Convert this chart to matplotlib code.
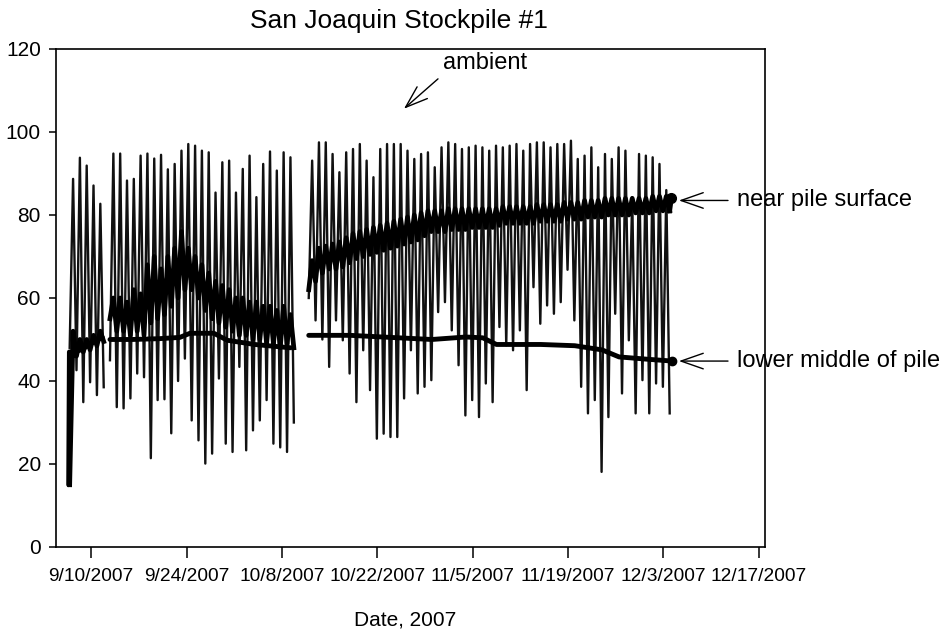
import numpy as np
import pandas as pd
import matplotlib
matplotlib.use('Agg')
import matplotlib.pyplot as plt
import matplotlib.dates as mdates

plt.rcParams['font.family'] = ['Liberation Sans', 'DejaVu Sans']

# ambient air: daily high / low, three logging periods
amb1_peak0 = '2007-09-07 08:00'
amb1_start = 48
amb1_hi = [88.7, 93.8, 91.9, 87.1, 82.7]
amb1_lo = [42.6, 34.9, 39.7, 36.6, 38.5]

amb2_peak0 = '2007-09-13 06:00'
amb2_start = 45
amb2_hi = [94.8, 94.8, 88.3, 88.7, 94.3, 94.8, 93.6, 94.5, 91.0, 92.3, 95.5, 97.1, 96.7, 95.5,
           95.1, 85.4, 92.7, 93.1, 85.4, 91.1, 94.3, 84.3, 92.3, 95.3, 90.7, 95.1, 93.9]
amb2_lo = [33.7, 33.4, 35.8, 41.8, 40.9, 21.4, 35.4, 35.6, 27.4, 40.0, 45.4, 30.5, 25.7, 20.1,
           22.5, 40.6, 24.9, 22.9, 43.4, 23.3, 28.1, 30.5, 35.4, 24.9, 24.0, 22.9, 30.0]

amb3_peak0 = '2007-10-12 10:30'
amb3_start = 60
amb3_hi = [93.1, 97.5, 97.5, 94.7, 90.3, 95.1, 95.9, 97.1, 93.1, 89.1, 95.9, 97.1, 97.1, 97.1,
           95.5, 93.5, 94.7, 95.1, 91.5, 96.3, 97.5, 97.1, 95.9, 96.3, 96.7, 96.3, 95.5, 96.7,
           96.3, 96.7, 97.1, 95.5, 97.1, 97.5, 97.5, 96.3, 97.1, 97.1, 97.9, 93.5, 94.3, 96.3,
           91.5, 94.7, 93.5, 96.3, 95.5, 84.3, 94.7, 94.3, 93.9, 92.3, 86.0]
amb3_lo = [54.6, 50.0, 43.4, 54.6, 49.8, 41.8, 34.9, 47.4, 37.8, 26.1, 27.3, 26.5, 26.5, 35.8,
           47.4, 37.0, 38.6, 40.2, 56.6, 59.0, 52.2, 43.8, 31.7, 35.4, 31.3, 39.4, 34.9, 53.0,
           48.6, 47.4, 52.2, 37.8, 62.6, 53.8, 58.2, 56.2, 59.0, 66.8, 54.6, 38.6, 32.2, 35.4,
           18.1, 31.3, 56.2, 37.0, 49.8, 32.2, 40.2, 32.2, 39.4, 38.6, 32.2]

# near pile surface: daily high / low
near1_start = 15
near1_hi = [52, 50, 50, 51, 52]
near1_lo = [46, 47, 47.5, 48.5, 49.5]

near2_start = 55
near2_hi = [60, 60, 59, 62, 61, 68, 70, 67, 70, 72, 76, 72, 70, 68, 66, 64, 63, 62, 60, 60,
            59, 59, 58, 58, 57, 58, 56]
near2_lo = [52, 52, 51, 52, 51, 54, 55, 56, 58, 60, 62, 62, 60, 57, 55, 54, 53, 52, 51, 51,
            50, 50, 49, 49, 48, 49, 48]

near3_start = 62
near3_hi = [69, 72, 72.5, 73, 73.5, 74.5, 75.5, 76, 76.5, 77, 77.5, 78, 78.5, 79, 79.5, 80,
            80.5, 81, 81, 81, 81.5, 81.5, 81.5, 81.5, 81.5, 81.5, 81.5, 81.5, 82, 82, 82, 82,
            82, 82.5, 82.5, 82.5, 82.5, 83, 83, 83, 83.5, 83.5, 83.5, 84, 84, 84, 84, 84, 84,
            84, 84.5, 84.5, 84.5]
near3_lo = [64, 66, 67, 67, 67.5, 68.5, 69.5, 70, 70.5, 71, 71.5, 72, 72.5, 73, 73.5, 74,
            75, 76, 76, 76, 76.5, 76.5, 76.5, 77, 77, 77, 77, 77.5, 78, 78, 78, 78, 78, 78.5,
            78.5, 78.5, 78.5, 79, 79, 79, 79.5, 79.5, 79.5, 80, 80, 80, 80, 80.5, 80.5, 80.5,
            81, 81, 81]
near3_end = 84

# lower middle of pile
low1_t = ['2007-09-06 16:30', '2007-09-06 19:00', '2007-09-07 12:00', '2007-09-08 12:00',
          '2007-09-09 12:00', '2007-09-10 12:00', '2007-09-11 15:00']
low1_v = [15, 47, 47, 47.5, 48.5, 49.5, 50.5]
low2_t = ['2007-09-12 18:00', '2007-09-16', '2007-09-20', '2007-09-23', '2007-09-24 12:00',
          '2007-09-28', '2007-09-30', '2007-10-04', '2007-10-09 06:00']
low2_v = [50, 50, 50.2, 50.5, 51.5, 51.5, 49.8, 48.8, 48]
low3_t = ['2007-10-11 22:30', '2007-10-18', '2007-10-24', '2007-10-30', '2007-11-04',
          '2007-11-06 12:00', '2007-11-08 12:00', '2007-11-15', '2007-11-20', '2007-11-24',
          '2007-11-26 12:00', '2007-12-01', '2007-12-04 08:00']
low3_v = [51, 51, 50.5, 50, 50.6, 50.4, 48.8, 48.8, 48.5, 47.5, 45.8, 45.2, 44.8]

tick_dates = ['2007-09-10', '2007-09-24', '2007-10-08', '2007-10-22', '2007-11-05',
              '2007-11-19', '2007-12-03', '2007-12-17']
tick_labels = ['9/10/2007', '9/24/2007', '10/8/2007', '10/22/2007', '11/5/2007',
               '11/19/2007', '12/3/2007', '12/17/2007']


def daily(peak0, start, hi, lo):
    t0 = pd.Timestamp(peak0)
    half = pd.Timedelta(hours=12)
    t = [t0 - half]
    v = [start]
    for i, (h, l) in enumerate(zip(hi, lo)):
        d = t0 + pd.Timedelta(days=i)
        t += [d, d + half]
        v += [h, l]
    return t, v


fig = plt.figure(figsize=(9.5, 6.32), dpi=100)
ax = fig.add_axes([0.059, 0.1345, 0.7463, 0.788])

# ambient
for p0, s, hi, lo in [(amb1_peak0, amb1_start, amb1_hi, amb1_lo),
                      (amb2_peak0, amb2_start, amb2_hi, amb2_lo),
                      (amb3_peak0, amb3_start, amb3_hi, amb3_lo)]:
    t, v = daily(p0, s, hi, lo)
    ax.plot(t, v, color='#111111', lw=1.7)

# near pile surface
for p0, s, hi, lo in [(amb1_peak0, near1_start, near1_hi, near1_lo),
                      (amb2_peak0, near2_start, near2_hi, near2_lo),
                      (amb3_peak0, near3_start, near3_hi, near3_lo)]:
    t, v = daily(p0, s, hi, lo)
    ax.plot(t, v, color='black', lw=3.4, solid_joinstyle='round')
t3, v3 = daily(amb3_peak0, near3_start, near3_hi, near3_lo)
t_end = t3[-1] + pd.Timedelta(hours=6)
ax.plot([t3[-1], t_end], [v3[-1], near3_end], color='black', lw=3.4)
ax.plot([t_end], [near3_end], 'o', color='black', ms=7)

# lower middle of pile
for tt, vv in [(low1_t, low1_v), (low2_t, low2_v), (low3_t, low3_v)]:
    ax.plot([pd.Timestamp(s) for s in tt], vv, color='black', lw=3.5, solid_capstyle='round')
ax.plot([pd.Timestamp(low3_t[-1])], [low3_v[-1]], 'o', color='black', ms=6)

ax.set_xlim(pd.Timestamp('2007-09-04 20:00'), pd.Timestamp('2007-12-17 22:30'))
ax.set_ylim(0, 120)
ax.set_yticks(range(0, 121, 20))
ax.set_xticks([pd.Timestamp(s) for s in tick_dates])
ax.set_xticklabels(tick_labels)
ax.tick_params(axis='both', direction='out', width=1.1)
ax.tick_params(axis='y', length=5, pad=6, labelsize=15)
ax.tick_params(axis='x', length=8, pad=7, labelsize=13.8)
for sp in ax.spines.values():
    sp.set_linewidth(1.2)


# annotations
def dn(s):
    return mdates.date2num(pd.Timestamp(s))


arrow = dict(arrowstyle='->,head_length=1.0,head_width=0.35', lw=1.0, color='black',
             mutation_scale=16, shrinkA=0, shrinkB=0)
ax.annotate('', xy=(dn('2007-10-25 22:00'), 105.6), xytext=(dn('2007-10-30 22:00'), 112.8),
            arrowprops=arrow, annotation_clip=False)
ax.text(dn('2007-10-31 16:00'), 116.6, 'ambient', fontsize=17, va='center', ha='left')

ax.annotate('', xy=(dn('2007-12-05 07:00'), 83.5), xytext=(dn('2007-12-12 12:00'), 83.5),
            arrowprops=arrow, annotation_clip=False)
ax.text(dn('2007-12-13 19:00'), 83.5, 'near pile surface', fontsize=17, va='center',
        ha='left', clip_on=False)

ax.annotate('', xy=(dn('2007-12-05 07:00'), 44.8), xytext=(dn('2007-12-12 12:00'), 44.8),
            arrowprops=arrow, annotation_clip=False)
ax.text(dn('2007-12-13 19:00'), 44.8, 'lower middle of pile', fontsize=17, va='center',
        ha='left', clip_on=False)

fig.text(399 / 950, 1 - 21 / 632, 'San Joaquin Stockpile #1', fontsize=19, ha='center',
         va='center')
fig.text(405 / 950, 1 - 620 / 632, 'Date, 2007', fontsize=15, ha='center', va='center')

fig.savefig('out.png', dpi=100)
